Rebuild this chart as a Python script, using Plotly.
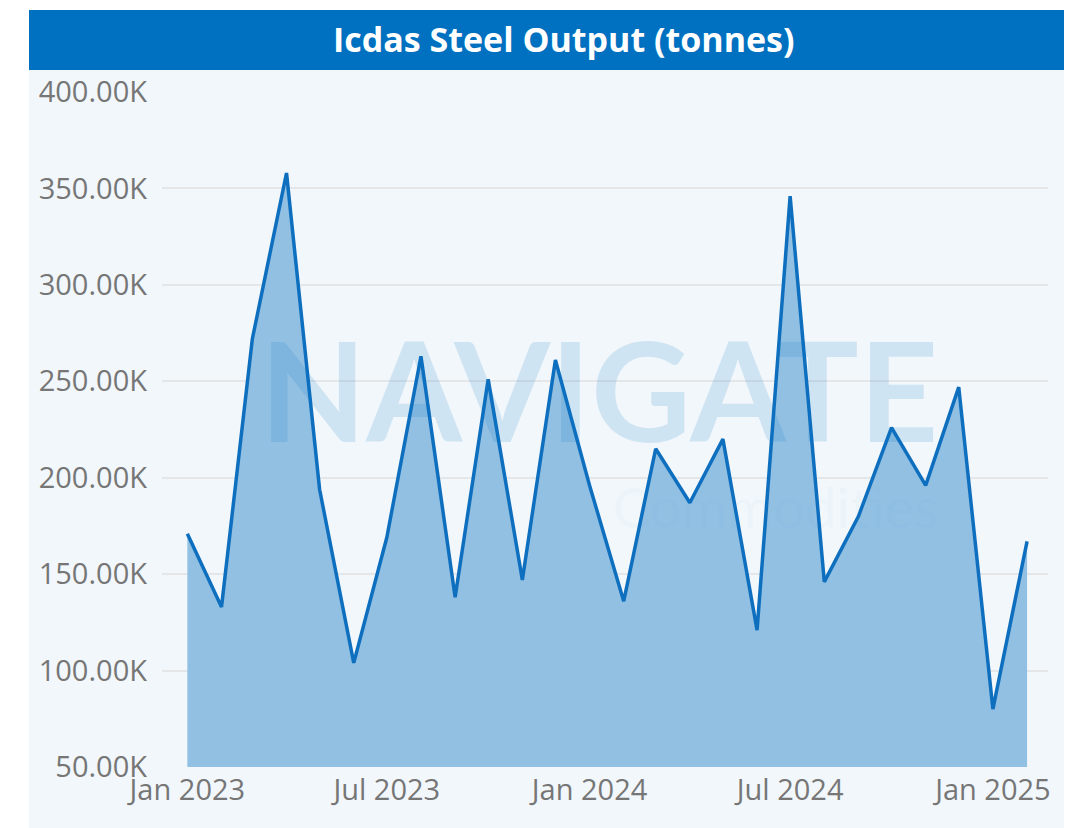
import plotly.graph_objects as go

months = ["2023-01-01", "2023-02-01", "2023-03-01", "2023-04-01", "2023-05-01", "2023-06-01",
          "2023-07-01", "2023-08-01", "2023-09-01", "2023-10-01", "2023-11-01", "2023-12-01",
          "2024-01-01", "2024-02-01", "2024-03-01", "2024-04-01", "2024-05-01", "2024-06-01",
          "2024-07-01", "2024-08-01", "2024-09-01", "2024-10-01", "2024-11-01", "2024-12-01",
          "2025-01-01", "2025-02-01"]
output_tonnes = [171000, 133000, 272000, 358000, 194000, 104000,
                 169000, 263000, 138000, 251000, 147000, 261000,
                 196000, 136000, 215000, 187000, 220000, 121000,
                 346000, 146000, 180000, 226000, 196000, 247000,
                 80000, 167000]
x_tick_dates = ["2023-01-01", "2023-07-01", "2024-01-01", "2024-07-01", "2025-01-01"]
x_tick_labels = ["Jan 2023", "Jul 2023", "Jan 2024", "Jul 2024", "Jan 2025"]
y_tick_values = [50000, 100000, 150000, 200000, 250000, 300000, 350000, 400000]
y_tick_labels = [f"{v/1000:.2f}K" for v in y_tick_values]
title_text = "Icdas Steel Output (tonnes)"

BG = "#F2F7FB"
BLUE = "#0070C0"
OFF = 8  # page body margin offset

FW, FH = 1072 - OFF, 828 - OFF
# plot area in reference (screen) pixels: x 162..1048, y 92..767
L, R, T, B = 162 - OFF, 1048 - OFF, 92 - OFF, 767 - OFF
W, H = R - L, B - T
def px(x): return (x - OFF - L) / W   # x given in reference screen pixels
def py(y): return (B - (y - OFF)) / H

fig = go.Figure()
fig.add_trace(go.Scatter(
    x=months, y=output_tonnes, mode="lines",
    line=dict(color="#0F6FBF", width=3.5),
    fill="tozeroy", fillcolor="#92C0E3",
    hoverinfo="x+y", showlegend=False,
))

shapes = [
    dict(type="rect", xref="paper", yref="paper", x0=px(-20), x1=px(29), y0=py(860), y1=py(-20),
         fillcolor="white", line_width=0, layer="below"),
    dict(type="rect", xref="paper", yref="paper", x0=px(-20), x1=px(1090), y0=py(10), y1=py(-20),
         fillcolor="white", line_width=0, layer="below"),
    dict(type="rect", xref="paper", yref="paper", x0=px(29), x1=px(1090), y0=py(70), y1=py(10),
         fillcolor=BLUE, line_width=0, layer="below"),
]

watermark = ('<span style="font-size:138px;font-weight:bold">NAVIGATE</span><br>'
             '<span style="font-size:56px;color:rgba(0,112,192,0.17)">Commodities</span>')

annotations = [
    dict(text=title_text, xref="paper", yref="paper", x=px(564), y=py(39),
         showarrow=False, xanchor="center", yanchor="middle",
         font=dict(family="Open Sans", size=34, color="white", weight="bold")),
    dict(text=watermark, xref="paper", yref="paper", x=px(940), y=py(304),
         showarrow=False, xanchor="right", yanchor="top", align="right",
         font=dict(family="Lato", size=66, color="rgba(0,112,192,0.14)")),
]

fig.update_layout(
    width=FW, height=FH,
    margin=dict(l=L, r=FW - R, t=T, b=FH - B),
    paper_bgcolor=BG, plot_bgcolor=BG,
    shapes=shapes, annotations=annotations,
    font=dict(family="Open Sans", color="#767676"),
)
fig.update_xaxes(
    type="date", range=["2022-12-09", "2025-02-20"],
    tickvals=x_tick_dates, ticktext=x_tick_labels,
    showgrid=False, zeroline=False, showline=False, ticks="",
    tickfont=dict(size=29, color="#767676"), ticklabelstandoff=3,
)
fig.update_yaxes(
    range=[50000, 400000], tickvals=y_tick_values, ticktext=y_tick_labels,
    showgrid=True, gridcolor="#E4E6E8", gridwidth=1.5, zeroline=False, showline=False, ticks="",
    tickfont=dict(size=29, color="#767676"), ticklabelstandoff=14,
)

fig.write_html("out.html")
